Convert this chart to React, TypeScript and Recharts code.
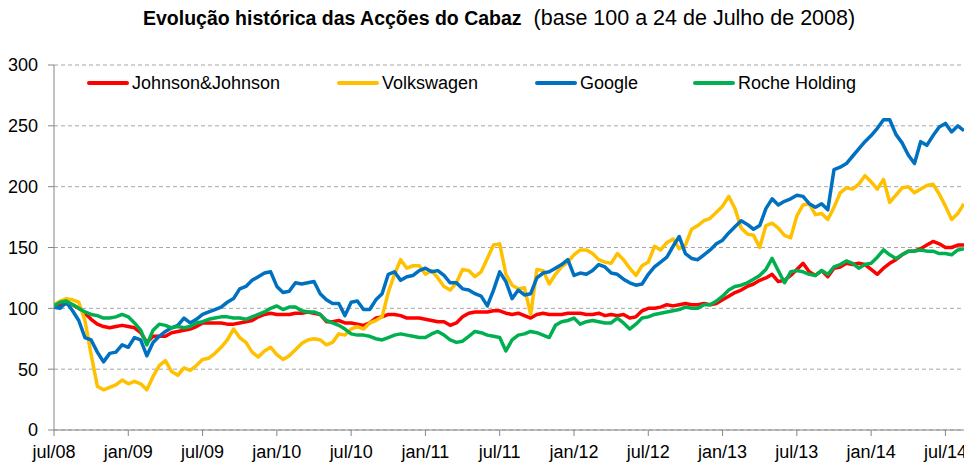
import React from 'react';
import { LineChart, Line, XAxis, YAxis, CartesianGrid } from 'recharts';

// months since jul/08 (half-month steps)
const months = [0,0.5,1,1.5,2,2.5,3,3.5,4,4.5,5,5.5,6,6.5,7,7.5,8,8.5,9,9.5,10,10.5,11,11.5,12,12.5,13,13.5,14,14.5,15,15.5,16,16.5,17,17.5,18,18.5,19,19.5,20,20.5,21,21.5,22,22.5,23,23.5,24,24.5,25,25.5,26,26.5,27,27.5,28,28.5,29,29.5,30,30.5,31,31.5,32,32.5,33,33.5,34,34.5,35,35.5,36,36.5,37,37.5,38,38.5,39,39.5,40,40.5,41,41.5,42,42.5,43,43.5,44,44.5,45,45.5,46,46.5,47,47.5,48,48.5,49,49.5,50,50.5,51,51.5,52,52.5,53,53.5,54,54.5,55,55.5,56,56.5,57,57.5,58,58.5,59,59.5,60,60.5,61,61.5,62,62.5,63,63.5,64,64.5,65,65.5,66,66.5,67,67.5,68,68.5,69,69.5,70,70.5,71,71.5,72,72.5,73,73.5];

const tickMonths = [0, 6, 12, 18, 24, 30, 36, 42, 48, 54, 60, 66, 72];
const tickLabels = ['jul/08','jan/09','jul/09','jan/10','jul/10','jan/11','jul/11','jan/12','jul/12','jan/13','jul/13','jan/14','jul/14'];
const yTicks = [0, 50, 100, 150, 200, 250, 300];

const jnj = [101,103,104,103,100,96,91,87,85,84,85,86,85,84,80,72,77,77,77,80,81,82,83,85,88,88,88,88,87,87,88,
89,90,93,95,96,95,95,95,96,96,97,96,95,89,89,90,88,88,87,86,88,92,93,95,95,94,92,92,92,91,
90,89,89,86,88,93,96,97,97,97,98,98,96,95,96,94,92,95,96,95,95,95,96,96,96,95,95,96,94,95,
94,95,92,93,98,100,100,101,103,102,103,104,103,103,104,103,104,107,110,113,115,118,120,123,125,128,122,123,127,132,
137,130,127,131,126,133,134,137,136,137,136,132,128,133,137,140,144,147,147,149,152,155,153,150,150,152,152];

const vw = [103,106,108,107,105,90,62,36,33,35,37,41,38,40,38,33,44,53,57,48,45,51,49,53,58,59,63,68,74,83,76,
72,64,60,65,68,62,58,61,66,71,74,75,74,70,72,79,78,83,85,83,88,90,93,113,128,140,133,135,135,128,
131,125,118,115,121,132,131,126,130,141,152,153,128,119,116,117,95,132,131,120,128,134,138,144,148,148,145,140,138,137,
145,140,133,127,135,138,151,148,154,157,149,152,165,168,172,174,179,184,192,182,166,161,160,150,168,170,166,160,158,176,
185,186,177,178,173,183,195,199,198,202,209,204,198,206,187,193,199,200,195,198,201,202,194,184,173,178,186];

const google = [101,100,105,98,90,76,74,64,56,63,64,70,68,76,74,61,72,77,81,84,86,92,88,91,95,97,99,101,105,108,116,
118,123,126,129,130,118,113,114,121,120,121,122,112,107,104,104,94,105,106,99,99,107,112,128,130,123,126,127,131,133,
130,131,127,121,121,116,115,112,110,102,115,130,122,108,115,111,112,125,129,130,133,136,140,127,129,128,131,136,134,129,
128,124,121,119,120,128,134,138,142,151,159,145,141,140,144,148,153,156,162,167,172,169,165,168,182,190,185,188,190,193,
192,186,183,186,181,214,216,219,225,231,237,242,248,255,255,243,236,226,219,237,234,242,249,252,245,250,246];

const roche = [102,105,106,103,100,97,95,94,92,92,93,95,93,88,82,70,82,87,86,84,85,84,85,88,89,91,92,93,93,92,92,
91,93,95,97,100,102,99,101,101,98,97,97,95,90,88,86,83,79,78,78,77,75,74,76,78,79,78,77,76,76,
79,81,78,74,72,73,77,81,80,78,77,76,65,74,78,79,81,80,78,76,86,89,90,92,87,89,90,89,88,88,
92,88,83,87,92,93,95,96,97,98,99,101,100,100,103,103,106,110,115,118,119,121,124,127,132,141,131,121,130,131,
130,128,127,131,128,134,136,139,137,133,136,137,142,148,144,141,144,147,147,148,147,147,145,145,144,148,149];

const seriesNames = ['Johnson&Johnson', 'Volkswagen', 'Google', 'Roche Holding'];
const seriesKeys = ['jnj', 'vw', 'google', 'roche'];
const seriesColors = ['#FF0000', '#FFC000', '#0070C0', '#00B050'];

const data = months.map((m, i) => ({
  m,
  jnj: jnj[i],
  vw: vw[i],
  google: google[i],
  roche: roche[i],
}));

const FONT = '"Liberation Sans", Arial, sans-serif';
const legendX = [87, 337, 535, 693];

export default function App() {
  return (
    <div style={{ position: 'absolute', left: 0, top: 0, width: 964, height: 463, background: '#fff', fontFamily: FONT, overflow: 'hidden' }}>
      <div style={{ position: 'absolute', left: 143, top: 6, whiteSpace: 'nowrap', color: '#000', lineHeight: '24px' }}>
        <span style={{ fontWeight: 'bold', fontSize: 19.5 }}>Evolução histórica das Acções do Cabaz</span>
        <span style={{ fontSize: 21.5, marginLeft: 12 }}>(base 100 a 24 de Julho de 2008)</span>
      </div>
      <LineChart
        width={964}
        height={463}
        data={data}
        margin={{ top: 65, right: 0, bottom: 0, left: 0 }}
      >
        <CartesianGrid vertical={false} stroke="#A6A6A6" strokeDasharray="4 3" />
        <XAxis
          dataKey="m"
          type="number"
          domain={[0, 73.5]}
          ticks={tickMonths}
          tickFormatter={(v: number) => tickLabels[tickMonths.indexOf(v)] ?? ''}
          height={33}
          tickSize={6}
          tickMargin={9}
          stroke="#868686"
          tick={{ fontSize: 18, fill: '#000', fontFamily: FONT }}
          interval={0}
          allowDataOverflow
        />
        <YAxis
          domain={[0, 300]}
          ticks={yTicks}
          width={54}
          tickSize={6}
          tickMargin={10}
          stroke="#868686"
          tick={{ fontSize: 18, fill: '#000', fontFamily: FONT }}
          interval={0}
        />
        {seriesKeys.map((k, i) => (
          <Line
            key={k}
            dataKey={k}
            name={seriesNames[i]}
            stroke={seriesColors[i]}
            strokeWidth={3.5}
            dot={false}
            isAnimationActive={false}
            strokeLinejoin="round"
          />
        ))}
      </LineChart>
      {seriesNames.map((n, i) => (
        <div key={n} style={{ position: 'absolute', left: legendX[i], top: 72, height: 22, display: 'flex', alignItems: 'center', whiteSpace: 'nowrap' }}>
          <span style={{ display: 'inline-block', width: 42, height: 4, background: seriesColors[i], borderRadius: 2, marginRight: 3 }} />
          <span style={{ fontSize: 18, color: '#000' }}>{n}</span>
        </div>
      ))}
    </div>
  );
}
